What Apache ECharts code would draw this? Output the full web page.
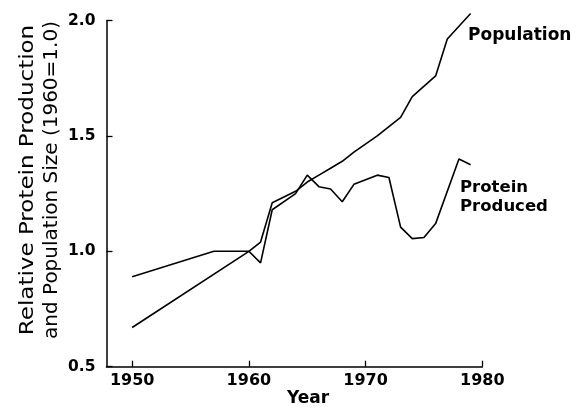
<!DOCTYPE html>
<html>
<head>
<meta charset="utf-8">
<script src="https://cdn.jsdelivr.net/npm/echarts@6/dist/echarts.min.js"></script>
<style>html,body{margin:0;padding:0;background:#fff;}#c{width:583px;height:409px;}</style>
</head>
<body>
<div id="c"></div>
<script>
var popYears = [1950, 1960, 1961, 1962, 1964, 1965, 1966, 1967, 1968, 1969, 1971, 1973, 1974, 1976, 1977, 1979];
var popValues = [0.67, 1.00, 1.04, 1.21, 1.26, 1.30, 1.33, 1.36, 1.39, 1.43, 1.50, 1.58, 1.67, 1.76, 1.92, 2.03];
var protYears = [1950, 1957, 1960, 1961, 1962, 1964, 1965, 1966, 1967, 1968, 1969, 1971, 1972, 1973, 1974, 1975, 1976, 1978, 1979];
var protValues = [0.89, 1.00, 1.00, 0.95, 1.18, 1.25, 1.33, 1.28, 1.27, 1.215, 1.29, 1.33, 1.32, 1.105, 1.055, 1.06, 1.12, 1.40, 1.375];
var xTicks = [1950, 1960, 1970, 1980];
var yTicks = [0.5, 1.0, 1.5, 2.0];
var xTitle = 'Year';
var yTitle1 = 'Relative Protein Production';
var yTitle2 = 'and Population Size (1960=1.0)';
var popLabel = 'Population';
var protLabel = 'Protein\nProduced';

function pairs(xs, ys) { return xs.map(function (x, i) { return [x, ys[i]]; }); }

var chart = echarts.init(document.getElementById('c'), null, {renderer: 'canvas'});
var font = 'DejaVu Sans';
chart.setOption({
  animation: false,
  backgroundColor: '#fff',
  grid: {left: 106.5, right: 100.7, top: 20.5, bottom: 42.3},
  xAxis: {
    type: 'value', min: 1947.8, max: 1980,
    splitLine: {show: false},
    axisLine: {lineStyle: {color: '#000', width: 1.5}},
    axisTick: {inside: true, length: 6, customValues: xTicks, lineStyle: {color: '#000', width: 1.3}},
    axisLabel: {customValues: xTicks, color: '#000', fontFamily: font, fontWeight: 'bold', fontSize: 16, margin: 6,
      formatter: function (v) { return String(Math.round(v)); }}
  },
  yAxis: {
    type: 'value', min: 0.5, max: 2.0, interval: 0.5,
    splitLine: {show: false},
    axisLine: {show: true, lineStyle: {color: '#000', width: 1.5}},
    axisTick: {show: true, inside: true, length: 6, lineStyle: {color: '#000', width: 1.3}},
    axisLabel: {customValues: yTicks, color: '#000', fontFamily: font, fontWeight: 'bold', fontSize: 15.5, margin: 11,
      formatter: function (v) { return v.toFixed(1); }}
  },
  series: [
    {type: 'line', data: pairs(popYears, popValues), symbol: 'none', clip: false,
      lineStyle: {color: '#000', width: 1.6}},
    {type: 'line', data: pairs(protYears, protValues), symbol: 'none', clip: false,
      lineStyle: {color: '#000', width: 1.6}}
  ],
  graphic: [
    {type: 'text', left: 287, top: 390, style: {text: xTitle, fill: '#000', font: 'bold 17px "DejaVu Sans"'}},
    {type: 'text', x: 28, y: 180, rotation: Math.PI / 2, scaleX: 1.15,
      style: {text: yTitle1, fill: '#000', font: '20px "DejaVu Sans"', align: 'center', verticalAlign: 'middle'}},
    {type: 'text', x: 52, y: 180, rotation: Math.PI / 2, scaleX: 1.0,
      style: {text: yTitle2, fill: '#000', font: '20px "DejaVu Sans"', align: 'center', verticalAlign: 'middle'}},
    {type: 'text', x: 468, y: 27, style: {text: popLabel, fill: '#000', font: 'bold 17px "DejaVu Sans"'}},
    {type: 'text', x: 460, y: 178, style: {text: protLabel, fill: '#000', font: 'bold 16.5px "DejaVu Sans"', lineHeight: 19}}
  ]
});
</script>
</body>
</html>
